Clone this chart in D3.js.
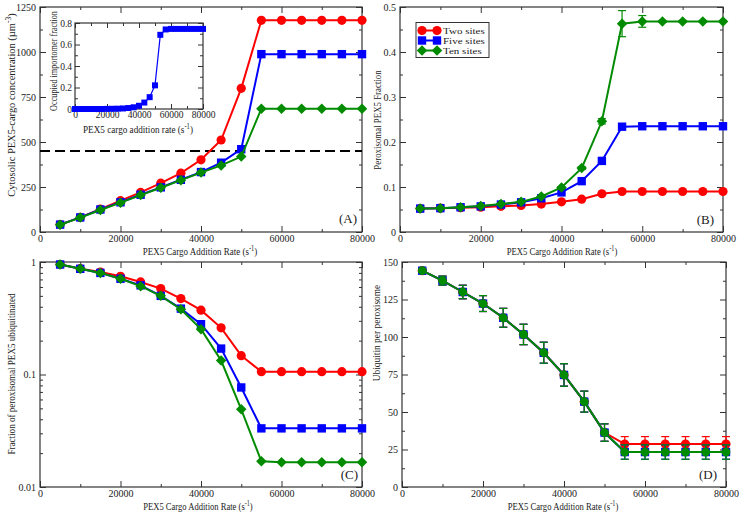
<!DOCTYPE html>
<html>
<head>
<meta charset="utf-8">
<script src="https://cdn.jsdelivr.net/npm/d3@7"></script>
<style>
  html, body { margin: 0; padding: 0; background: #fff; }
  svg { display: block; }
  text { font-family: "Liberation Serif", "Times New Roman", serif; fill: #222; }
</style>
</head>
<body>
<svg id="chart" width="741" height="516"></svg>
<script>
// ---------------- data ----------------
const xValues = [5000, 10000, 15000, 20000, 25000, 30000, 35000, 40000, 45000, 50000, 55000, 60000, 65000, 70000, 75000, 80000];
const seriesNames = ["Two sites", "Five sites", "Ten sites"];
const seriesColors = ["#ff0000", "#0000ff", "#008b00"];

// Panel A: cytosolic PEX5-cargo concentration
const concTwo  = [41, 81, 127, 174, 220, 271, 327, 401, 511, 798, 1176, 1176, 1176, 1176, 1176, 1176];
const concFive = [41, 81, 125, 165, 207, 248, 290, 333, 385, 460, 988, 988, 988, 988, 988, 988];
const concTen  = [40, 80, 122, 163, 205, 246, 288, 330, 370, 419, 685, 685, 685, 685, 685, 685];
const concThreshold = 450;

// Inset: occupied importomer fraction
const insetX = [0, 3333, 6667, 10000, 13333, 16667, 20000, 23333, 26667, 30000, 33333, 36667, 40000, 43333, 46667, 50000, 53333, 56667, 60000, 63333, 66667, 70000, 73333, 76667, 80000];
const insetY = [0, 0, 0, 0, 0, 0, 0.001, 0.002, 0.003, 0.005, 0.009, 0.016, 0.03, 0.06, 0.11, 0.22, 0.69, 0.74, 0.745, 0.745, 0.745, 0.745, 0.745, 0.745, 0.745];

// Panel B: peroxisomal PEX5 fraction
const fracTwo  = [0.052, 0.053, 0.054, 0.055, 0.057, 0.059, 0.062, 0.067, 0.073, 0.085, 0.090, 0.090, 0.090, 0.090, 0.090, 0.090];
const fracFive = [0.052, 0.053, 0.055, 0.057, 0.061, 0.066, 0.075, 0.088, 0.113, 0.158, 0.234, 0.235, 0.235, 0.235, 0.235, 0.235];
const fracTen  = [0.052, 0.053, 0.055, 0.058, 0.062, 0.067, 0.079, 0.099, 0.142, 0.246, 0.463, 0.468, 0.468, 0.468, 0.468, 0.468];
const fracTenErr = [0, 0, 0, 0, 0, 0, 0.001, 0.002, 0.003, 0.006, 0.029, 0.013, 0.002, 0.002, 0.002, 0.002];

// Panel C: fraction of peroxisomal PEX5 ubiquitinated (log)
const ubFracTwo  = [0.95, 0.873, 0.815, 0.746, 0.665, 0.58, 0.473, 0.373, 0.26, 0.147, 0.106, 0.106, 0.106, 0.106, 0.106, 0.106];
const ubFracFive = [0.95, 0.87, 0.80, 0.71, 0.62, 0.50, 0.385, 0.28, 0.17, 0.0767, 0.0332, 0.0332, 0.0332, 0.0332, 0.0332, 0.0332];
const ubFracTen  = [0.95, 0.87, 0.80, 0.71, 0.61, 0.50, 0.38, 0.253, 0.133, 0.049, 0.0169, 0.0166, 0.0166, 0.0166, 0.0166, 0.0166];

// Panel D: ubiquitin per peroxisome
const ubiqTwo  = [144.2, 137.6, 130, 122.3, 112.8, 101.7, 89.5, 74.7, 56.9, 36.3, 28.6, 28.6, 28.6, 28.6, 28.6, 28.6];
const ubiqFive = [144.2, 137.6, 130, 122.3, 112.8, 101.7, 89.5, 74.7, 56.9, 36.3, 23.3, 23.3, 23.3, 23.3, 23.3, 23.3];
const ubiqTen  = [144.2, 137.6, 130, 122.3, 112.8, 101.7, 89.5, 74.7, 56.9, 36.3, 23.3, 23.3, 23.3, 23.3, 23.3, 23.3];
const ubiqTwoErr  = [1, 3, 4.5, 5.3, 6.3, 6.8, 7, 7.5, 7, 5.8, 5, 5, 5, 5, 5, 5];
const ubiqFiveErr = [1, 3, 4.5, 5.3, 6.3, 6.8, 7, 7.5, 7, 5.8, 4.8, 4.8, 4.8, 4.8, 4.8, 4.8];
const ubiqTenErr  = [1, 3, 4.5, 5.3, 6.3, 6.8, 7, 7.5, 7, 5.8, 4.8, 4.8, 4.8, 4.8, 4.8, 4.8];

// tick values
const xMajorTicks = [0, 20000, 40000, 60000, 80000];
const xMinorTicks = [10000, 30000, 50000, 70000];
const aMajorTicks = [0, 250, 500, 750, 1000, 1250];
const bMajorTicks = [0, 0.1, 0.2, 0.3, 0.4, 0.5];
const cMajorTicks = [0.01, 0.1, 1];
const dMajorTicks = [0, 25, 50, 75, 100, 125, 150];
const insetYTicks = [0, 0.2, 0.4, 0.6, 0.8];

// ---------------- drawing ----------------
const svg = d3.select("#chart");
const TICK_FS = 10;

function markerPath(shape, s) {
  if (shape === "circle") return d3.symbol(d3.symbolCircle, Math.PI * s * s)();
  if (shape === "square") return `M${-s},${-s}H${s}V${s}H${-s}Z`;
  const d = s * 1.25;
  return `M0,${-d}L${d},0L0,${d}L${-d},0Z`;
}

function axes(g, x, y, box, o) {
  const fmt = o.yFormat || (d => d);
  const fs = o.fs || TICK_FS;
  g.append("g").attr("transform", `translate(0,${box.y1})`)
    .call(d3.axisBottom(x).tickValues(o.xMajor).tickSize(-o.major).tickPadding(o.xPad || 3).tickFormat(d => d))
    .call(s => s.select(".domain").remove())
    .selectAll("text").attr("font-size", fs);
  g.append("g").attr("transform", `translate(0,${box.y1})`)
    .call(d3.axisBottom(x).tickValues(o.xMinor).tickSize(-o.minor).tickFormat(""))
    .call(s => s.select(".domain").remove());
  g.append("g").attr("transform", `translate(0,${box.y0})`)
    .call(d3.axisTop(x).tickValues(o.xMajor).tickSize(-o.major).tickFormat(""))
    .call(s => s.select(".domain").remove());
  g.append("g").attr("transform", `translate(0,${box.y0})`)
    .call(d3.axisTop(x).tickValues(o.xMinor).tickSize(-o.minor).tickFormat(""))
    .call(s => s.select(".domain").remove());
  g.append("g").attr("transform", `translate(${box.x0},0)`)
    .call(d3.axisLeft(y).tickValues(o.yMajor).tickSize(-o.major).tickPadding(o.yPad || 4).tickFormat(fmt))
    .call(s => s.select(".domain").remove())
    .selectAll("text").attr("font-size", fs);
  g.append("g").attr("transform", `translate(${box.x0},0)`)
    .call(d3.axisLeft(y).tickValues(o.yMinor).tickSize(-o.minor).tickFormat(""))
    .call(s => s.select(".domain").remove());
  g.append("g").attr("transform", `translate(${box.x1},0)`)
    .call(d3.axisRight(y).tickValues(o.yMajor).tickSize(-o.major).tickFormat(""))
    .call(s => s.select(".domain").remove());
  g.append("g").attr("transform", `translate(${box.x1},0)`)
    .call(d3.axisRight(y).tickValues(o.yMinor).tickSize(-o.minor).tickFormat(""))
    .call(s => s.select(".domain").remove());
  g.selectAll(".tick text").attr("font-family", "Liberation Serif, serif").attr("fill", "#222");
  g.selectAll(".tick line").attr("stroke", "#333");
  g.append("rect").attr("x", box.x0).attr("y", box.y0)
    .attr("width", box.x1 - box.x0).attr("height", box.y1 - box.y0)
    .attr("fill", "none").attr("stroke", "#333").attr("stroke-width", 1.2);
}

// title text fitted to a target length (the reference lettering is narrow)
function title(g, cx, cy, rot, len, main, sup, rest, fs) {
  fs = fs || 10.5;
  const t = g.append("text").attr("text-anchor", "middle").attr("font-size", fs)
    .attr("transform", `translate(${cx},${cy}) rotate(${rot})`);
  t.append("tspan").text(main);
  if (sup) {
    t.append("tspan").attr("dy", -4).attr("font-size", fs * 0.72).text(sup);
    t.append("tspan").attr("dy", 4).text(rest);
  }
  const w = t.node().getBBox().width;
  const sx = len / w;
  t.attr("transform", `translate(${cx},${cy}) rotate(${rot}) scale(${sx},1)`);
}

function series(g, x, y, vals, color, shape, size, errs, lw) {
  const pts = xValues.map((xv, i) => [xv, vals[i], errs ? errs[i] : 0]);
  if (errs) {
    const eg = g.append("g").attr("stroke", color).attr("stroke-width", 1.2);
    pts.filter(p => p[2] > 0).forEach(p => {
      const px = x(p[0]);
      eg.append("line").attr("x1", px).attr("x2", px).attr("y1", y(p[1] - p[2])).attr("y2", y(p[1] + p[2]));
      eg.append("line").attr("x1", px - 4).attr("x2", px + 4).attr("y1", y(p[1] - p[2])).attr("y2", y(p[1] - p[2]));
      eg.append("line").attr("x1", px - 4).attr("x2", px + 4).attr("y1", y(p[1] + p[2])).attr("y2", y(p[1] + p[2]));
    });
  }
  g.append("path").datum(pts)
    .attr("d", d3.line().x(p => x(p[0])).y(p => y(p[1])))
    .attr("fill", "none").attr("stroke", color).attr("stroke-width", lw || 2);
  g.append("g").selectAll("path").data(pts).join("path")
    .attr("transform", p => `translate(${x(p[0])},${y(p[1])})`)
    .attr("d", markerPath(shape, size))
    .attr("fill", color);
}

function panelLabel(g, x, y, txt) {
  g.append("text").attr("x", x).attr("y", y).attr("text-anchor", "end")
    .attr("font-family", "Liberation Sans, Arial, sans-serif").attr("font-size", 13).text(txt);
}

const shapes = ["circle", "square", "diamond"];
const msz = [4.6, 4.2, 4.2];

// ---- Panel A ----
{
  const box = { x0: 40, x1: 362, y0: 7, y1: 232 };
  const g = svg.append("g");
  const x = d3.scaleLinear().domain([0, 80000]).range([box.x0, box.x1]);
  const y = d3.scaleLinear().domain([0, 1250]).range([box.y1, box.y0]);
  axes(g, x, y, box, { xMajor: xMajorTicks, xMinor: xMinorTicks, yMajor: aMajorTicks, yMinor: [125, 375, 625, 875, 1125], major: 6, minor: 3 });
  g.append("line").attr("x1", box.x0).attr("x2", box.x1).attr("y1", y(concThreshold)).attr("y2", y(concThreshold))
    .attr("stroke", "#000").attr("stroke-width", 2).attr("stroke-dasharray", "10,5");
  [concTwo, concFive, concTen].forEach((v, i) => series(g, x, y, v, seriesColors[i], shapes[i], msz[i]));
  title(g, 200, 255, 0, 115, "PEX5 Cargo Addition Rate (s", "-1", ")");
  title(g, 15, 105, -90, 184, "Cytosolic PEX5-cargo concentration (µm", "-3", ")");
  panelLabel(g, 357, 223, "(A)");

  // inset
  const ib = { x0: 75, x1: 203, y0: 23, y1: 109 };
  const ig = svg.append("g");
  const ix = d3.scaleLinear().domain([0, 80000]).range([ib.x0, ib.x1]);
  const iy = d3.scaleLinear().domain([0, 0.8]).range([ib.y1, ib.y0]);
  ig.append("rect").attr("x", ib.x0).attr("y", ib.y0).attr("width", ib.x1 - ib.x0).attr("height", ib.y1 - ib.y0).attr("fill", "#fff");
  axes(ig, ix, iy, ib, { xMajor: xMajorTicks, xMinor: xMinorTicks, yMajor: insetYTicks, yMinor: [0.1, 0.3, 0.5, 0.7], major: 5, minor: 3, fs: 9.5, xPad: 2, yPad: 3, yFormat: d => d === 0 ? "0" : d3.format(".1f")(d) });
  const ipts = insetX.map((v, i) => [v, insetY[i]]);
  ig.append("path").datum(ipts).attr("d", d3.line().x(p => ix(p[0])).y(p => iy(p[1])))
    .attr("fill", "none").attr("stroke", "#0000ff").attr("stroke-width", 1.2);
  ig.append("g").selectAll("path").data(ipts).join("path")
    .attr("transform", p => `translate(${ix(p[0])},${iy(p[1])})`)
    .attr("d", markerPath("square", 3)).attr("fill", "#0000ff");
  title(ig, 138, 133, 0, 110, "PEX5 cargo addition rate (s", "-1", ")", 10);
  title(ig, 57, 61, -90, 100, "Occupied importomer fraction", null, null, 10);
}

// ---- Panel B ----
{
  const box = { x0: 400, x1: 723, y0: 7, y1: 232 };
  const g = svg.append("g");
  const x = d3.scaleLinear().domain([0, 80000]).range([box.x0, box.x1]);
  const y = d3.scaleLinear().domain([0, 0.5]).range([box.y1, box.y0]);
  axes(g, x, y, box, { xMajor: xMajorTicks, xMinor: xMinorTicks, yMajor: bMajorTicks, yMinor: [0.05, 0.15, 0.25, 0.35, 0.45], major: 6, minor: 3, yFormat: d => d === 0 ? "0" : d3.format(".1f")(d) });
  series(g, x, y, fracTwo, seriesColors[0], "circle", 4.6);
  series(g, x, y, fracFive, seriesColors[1], "square", 4.2);
  series(g, x, y, fracTen, seriesColors[2], "diamond", 4.2, fracTenErr);
  title(g, 562, 255, 0, 111, "PEX5 Cargo Addition Rate (s", "-1", ")");
  title(g, 381, 120, -90, 100, "Peroxisomal PEX5 Fraction");
  panelLabel(g, 714, 224, "(B)");
  const lg = g.append("g");
  lg.append("rect").attr("x", 416).attr("y", 22.5).attr("width", 73).attr("height", 35)
    .attr("fill", "#fff").attr("stroke", "#333").attr("stroke-width", 1);
  seriesNames.forEach((n, i) => {
    const yy = 30.5 + i * 10;
    lg.append("line").attr("x1", 422).attr("x2", 437).attr("y1", yy).attr("y2", yy).attr("stroke", seriesColors[i]).attr("stroke-width", 2);
    [422, 437].forEach(xx => lg.append("path").attr("transform", `translate(${xx},${yy})`).attr("d", markerPath(shapes[i], msz[i])).attr("fill", seriesColors[i]));
    lg.append("text").attr("transform", `translate(443,${yy + 3}) scale(1.05,0.82)`).attr("font-size", 10.5).text(n);
  });
}

// ---- Panel C ----
{
  const box = { x0: 40, x1: 362, y0: 262, y1: 487 };
  const g = svg.append("g");
  const x = d3.scaleLinear().domain([0, 80000]).range([box.x0, box.x1]);
  const y = d3.scaleLog().domain([0.01, 1]).range([box.y1, box.y0]);
  const minorC = [0.02, 0.03, 0.04, 0.05, 0.06, 0.07, 0.08, 0.09, 0.2, 0.3, 0.4, 0.5, 0.6, 0.7, 0.8, 0.9];
  axes(g, x, y, box, { xMajor: xMajorTicks, xMinor: xMinorTicks, yMajor: cMajorTicks, yMinor: minorC, major: 6, minor: 3, yFormat: d => String(d) });
  [ubFracTwo, ubFracFive, ubFracTen].forEach((v, i) => series(g, x, y, v, seriesColors[i], shapes[i], msz[i]));
  title(g, 198, 510, 0, 110, "PEX5 Cargo Addition Rate (s", "-1", ")");
  title(g, 15, 374, -90, 162, "Fraction of peroxisomal PEX5 ubiquitinated");
  panelLabel(g, 358, 479, "(C)");
}

// ---- Panel D ----
{
  const box = { x0: 402, x1: 726, y0: 262, y1: 487 };
  const g = svg.append("g");
  const x = d3.scaleLinear().domain([0, 80000]).range([box.x0, box.x1]);
  const y = d3.scaleLinear().domain([0, 150]).range([box.y1, box.y0]);
  axes(g, x, y, box, { xMajor: xMajorTicks, xMinor: xMinorTicks, yMajor: dMajorTicks, yMinor: [12.5, 37.5, 62.5, 87.5, 112.5, 137.5], major: 6, minor: 3 });
  series(g, x, y, ubiqTwo, seriesColors[0], "circle", 4.6, ubiqTwoErr);
  series(g, x, y, ubiqFive, seriesColors[1], "square", 4.2, ubiqFiveErr);
  series(g, x, y, ubiqTen, seriesColors[2], "circle", 4.4, ubiqTenErr);
  title(g, 563, 510, 0, 111, "PEX5 Cargo Addition Rate (s", "-1", ")");
  title(g, 380, 333, -90, 97, "Ubiquitin per peroxisome");
  panelLabel(g, 717, 479, "(D)");
}
</script>
</body>
</html>
